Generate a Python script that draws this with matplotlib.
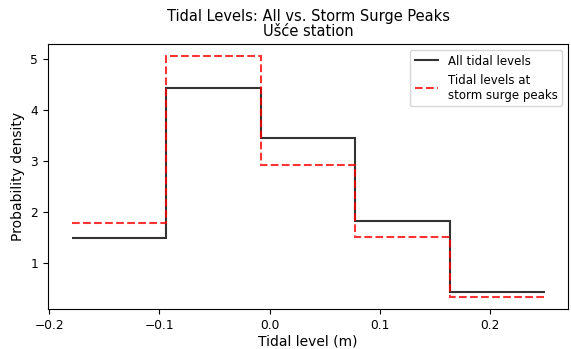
import numpy as np
import matplotlib
matplotlib.use("Agg")
import matplotlib.pyplot as plt

# bin edges (m) and densities
bin_edges = [-0.1795, -0.0938, -0.0081, 0.0776, 0.1633, 0.249]
all_density = [1.49, 4.44, 3.46, 1.82, 0.44]
surge_density = [1.80, 5.06, 2.93, 1.51, 0.345]

fig, ax = plt.subplots(figsize=(5.71, 3.49), dpi=100)
fig.subplots_adjust(left=0.084, right=0.995, bottom=0.115, top=0.874)

ax.stairs(all_density, bin_edges, baseline=None, color="black", linewidth=1.5,
          alpha=0.8, label="All tidal levels")
ax.stairs(surge_density, bin_edges, baseline=None, color="red", linewidth=1.5,
          linestyle="--", alpha=0.8, label="Tidal levels at\nstorm surge peaks")

ax.set_title("Tidal Levels: All vs. Storm Surge Peaks\nUšće station", fontsize=10.5, linespacing=1.0)
ax.set_xlabel("Tidal level (m)", fontsize=10, labelpad=2)
ax.set_ylabel("Probability density", fontsize=10, labelpad=4)
ax.tick_params(labelsize=8.8)
ax.legend(loc="upper right", fontsize=8.5)

fig.savefig("out.png", dpi=100)
